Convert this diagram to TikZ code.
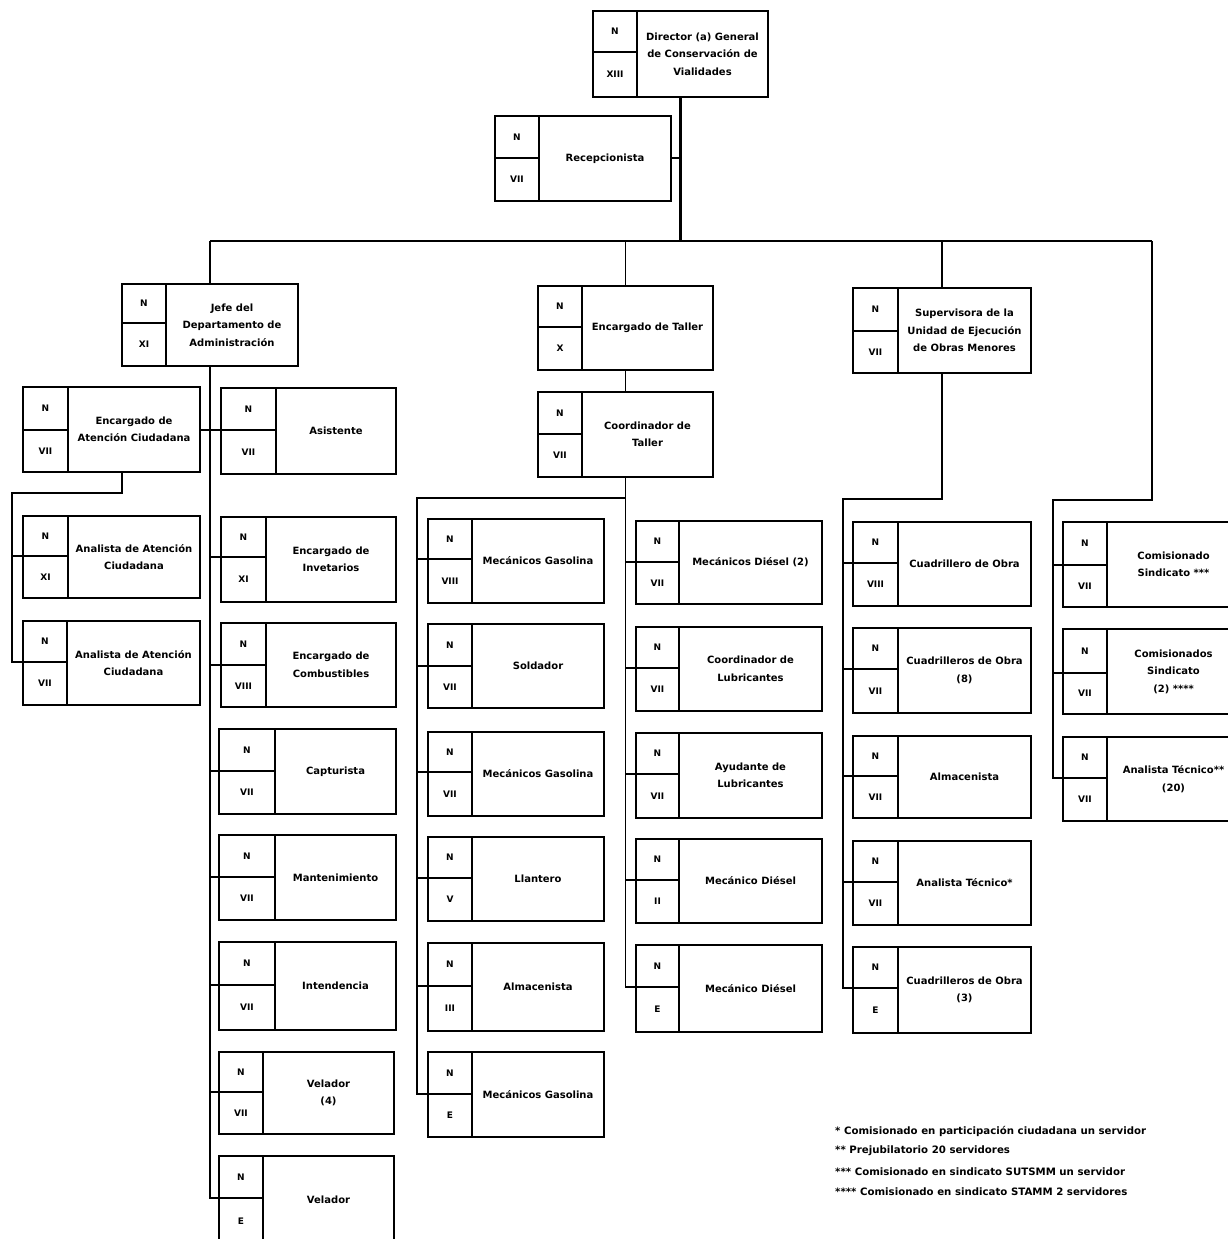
\documentclass[tikz,border=0pt]{standalone}
\usepackage{fontspec}
\setmainfont{DejaVu Sans}
\tikzset{
  box/.style={draw, line width=1.6pt, rectangle, inner sep=0pt, outer sep=0pt, anchor=north west},
  inner/.style={line width=1.2pt},
  conn/.style={line width=1.3pt},
  trunk/.style={line width=2.2pt},
  lbl/.style={font=\fontsize{9}{10}\selectfont\bfseries, inner sep=0pt},
  txt/.style={font=\fontsize{10}{17.5}\selectfont\bfseries, align=center, inner sep=0pt},
  note/.style={font=\fontsize{10.2}{12}\selectfont\bfseries, anchor=west, inner sep=0pt},
}
% #1 name, #2 x1, #3 y1, #4 x2, #5 y2, #6 divider x, #7 split y, #8 level, #9 text
\newcommand\orgbox[9]{%
  \node[box, minimum width={(#4-#2)*1pt}, minimum height={(#5-#3)*1pt}] (#1) at (#2,#3) {};
  \draw[inner] (#6,#3) -- (#6,#5);
  \draw[inner] (#2,#7) -- (#6,#7);
  \node[lbl] (#1-n) at ({(#2+#6)/2},{(#3+#7)/2}) {N};
  \node[lbl] (#1-g) at ({(#2+#6)/2},{(#7+#5)/2}) {#8};
  \node[txt] (#1-t) at ({(#6+#4)/2},{(#3+#5)/2}) {#9};
  \coordinate (#1-w) at (#2,#7);
  \coordinate (#1-e) at (#4,#7);
}
\begin{document}
\begin{tikzpicture}[x=1pt,y=-1pt]
\useasboundingbox (0,0) rectangle (1228,1239);
\clip (0,0) rectangle (1228,1239);

% top
\orgbox{dir}{593}{11}{768}{97}{637}{52}{XIII}{Director (a) General\\de Conservación de\\Vialidades}
\orgbox{rec}{495}{116}{671}{201}{539}{158}{VII}{Recepcionista}

% level 2
\orgbox{jefe}{122}{284}{298}{366}{166}{323}{XI}{Jefe del\\Departamento de\\Administración}
\orgbox{et}{538}{286}{713}{370}{582}{327}{X}{Encargado de Taller}
\orgbox{sup}{853}{288}{1031}{373}{898}{331}{VII}{Supervisora de la\\Unidad de Ejecución\\de Obras Menores}

% administración
\orgbox{eac}{23}{387}{200}{472}{68}{430}{VII}{Encargado de\\Atención Ciudadana}
\orgbox{asis}{221}{388}{396}{474}{276}{430}{VII}{Asistente}
\orgbox{aac1}{23}{516}{200}{598}{68}{556}{XI}{Analista de Atención\\Ciudadana}
\orgbox{aac2}{23}{621}{200}{705}{67}{662}{VII}{Analista de Atención\\Ciudadana}
\orgbox{inv}{221}{517}{396}{602}{266}{557}{XI}{Encargado de\\Invetarios}
\orgbox{comb}{221}{623}{396}{707}{266}{665}{VIII}{Encargado de\\Combustibles}
\orgbox{capt}{219}{729}{396}{814}{275}{771}{VII}{Capturista}
\orgbox{mant}{219}{835}{396}{920}{275}{877}{VII}{Mantenimiento}
\orgbox{inte}{219}{942}{396}{1030}{275}{985}{VII}{Intendencia}
\orgbox{vel4}{219}{1052}{394}{1134}{263}{1092}{VII}{Velador\\(4)}
\orgbox{vel}{219}{1156}{394}{1244}{263}{1198}{E}{Velador}

% taller
\orgbox{ct}{538}{392}{713}{477}{582}{434}{VII}{Coordinador de\\Taller}
\orgbox{mg1}{428}{519}{604}{603}{472}{559}{VIII}{Mecánicos Gasolina}
\orgbox{sold}{428}{624}{604}{708}{472}{666}{VII}{Soldador}
\orgbox{mg2}{428}{732}{604}{816}{472}{772}{VII}{Mecánicos Gasolina}
\orgbox{llan}{428}{837}{604}{921}{472}{878}{V}{Llantero}
\orgbox{alm1}{428}{943}{604}{1031}{472}{986}{III}{Almacenista}
\orgbox{mg3}{428}{1052}{604}{1137}{472}{1094}{E}{Mecánicos Gasolina}
\orgbox{md2}{636}{521}{822}{604}{679}{562}{VII}{Mecánicos Diésel (2)}
\orgbox{club}{636}{627}{822}{711}{679}{668}{VII}{Coordinador de\\Lubricantes}
\orgbox{alub}{636}{733}{822}{818}{679}{774}{VII}{Ayudante de\\Lubricantes}
\orgbox{md3}{636}{839}{822}{923}{679}{880}{II}{Mecánico Diésel}
\orgbox{md4}{636}{945}{822}{1032}{679}{987}{E}{Mecánico Diésel}

% obras menores
\orgbox{co1}{853}{522}{1031}{606}{898}{563}{VIII}{Cuadrillero de Obra}
\orgbox{co2}{853}{628}{1031}{713}{898}{669}{VII}{Cuadrilleros de Obra\\(8)}
\orgbox{alm2}{853}{736}{1031}{818}{898}{776}{VII}{Almacenista}
\orgbox{at1}{853}{841}{1031}{925}{898}{882}{VII}{Analista Técnico*}
\orgbox{co3}{853}{947}{1031}{1033}{898}{988}{E}{Cuadrilleros de Obra\\(3)}

% sindicato
\orgbox{cs1}{1063}{522}{1240}{607}{1107}{565}{VII}{Comisionado\\Sindicato ***}
\orgbox{cs2}{1063}{629}{1240}{714}{1107}{673}{VII}{Comisionados\\Sindicato\\(2) ****}
\orgbox{at2}{1063}{737}{1240}{821}{1107}{778}{VII}{Analista Técnico**\\(20)}

% connectors
\coordinate (hl) at (210,241);
\coordinate (hr) at (1152,241);
\draw[trunk] (dir.south) -- (dir.south |- hl);
\draw[conn] (rec-e) -- (rec-e -| dir.south);
\draw[line width=1.8pt] (hl) -- (hr);
\draw[conn] (jefe.north) -- (jefe.north |- hl);
\draw[conn] (et.north) -- (et.north |- hl);
\draw[conn] (sup.north) -- (sup.north |- hl);

% sindicato branch
\coordinate (rb) at (1053,500);
\draw[conn] (hr) |- (rb) |- (at2-w);
\foreach \b in {cs1,cs2} \draw[conn] (\b-w -| rb) -- (\b-w);

% administración branch
\draw[conn] (jefe.south) |- (vel-w);
\draw[conn] (eac-e) -- (asis-w);
\foreach \b in {inv,comb,capt,mant,inte,vel4} \draw[conn] (\b-w -| jefe.south) -- (\b-w);
\coordinate (eacb) at (122,472);
\coordinate (lb) at (12,493);
\draw[conn] (eacb) |- (lb) |- (aac2-w);
\draw[conn] (aac1-w -| lb) -- (aac1-w);

% taller branch
\draw[conn] (et.south) -- (ct.north);
\coordinate (tb) at (417,498);
\draw[conn] (ct.south) |- (tb) |- (mg3-w);
\draw[conn] (ct.south) |- (md4-w);
\foreach \b in {mg1,sold,mg2,llan,alm1} \draw[conn] (\b-w -| tb) -- (\b-w);
\foreach \b in {md2,club,alub,md3} \draw[conn] (\b-w -| ct.south) -- (\b-w);

% obras menores branch
\coordinate (sb) at (843,499);
\draw[conn] (sup.south) |- (sb) |- (co3-w);
\foreach \b in {co1,co2,alm2,at1} \draw[conn] (\b-w -| sb) -- (\b-w);

% notes
\node[note] (note1) at (835,1131) {* Comisionado en participación ciudadana un servidor};
\node[note] (note2) at (835,1151) {** Prejubilatorio 20 servidores};
\node[note] (note3) at (835,1172) {*** Comisionado en sindicato SUTSMM un servidor};
\node[note] (note4) at (835,1192) {**** Comisionado en sindicato STAMM 2 servidores};
\end{tikzpicture}
\end{document}
